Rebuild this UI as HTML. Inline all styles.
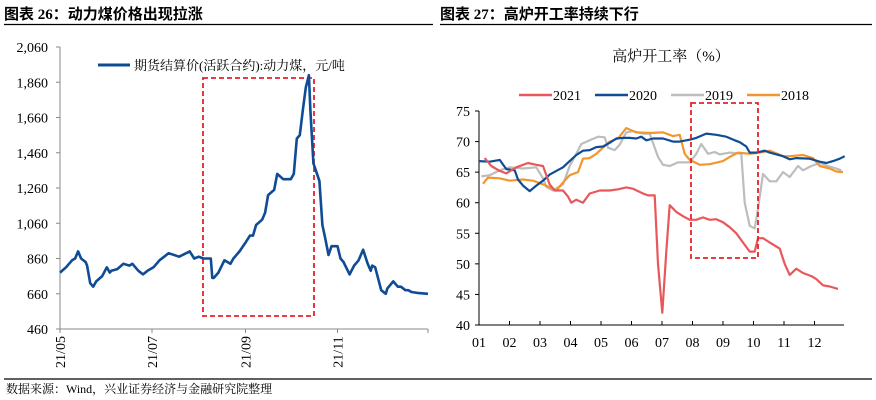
<!DOCTYPE html>
<html><head><meta charset="utf-8">
<style>
body{margin:0;background:#fff;}
svg{display:block;font-family:"Liberation Serif","Noto Serif CJK SC",serif;}
</style></head>
<body>
<svg id="s" width="876" height="400" viewBox="0 0 876 400">
<text x="4" y="19" font-size="15" font-weight="bold" font-family="Liberation Serif,'Noto Sans CJK SC',sans-serif">图表 26：动力煤价格出现拉涨</text>
<line x1="4" y1="24.5" x2="433" y2="24.5" stroke="#000" stroke-width="1.2"/>
<text x="440" y="19" font-size="15" font-weight="bold" font-family="Liberation Serif,'Noto Sans CJK SC',sans-serif">图表 27：高炉开工率持续下行</text>
<line x1="440" y1="24.5" x2="872" y2="24.5" stroke="#000" stroke-width="1.2"/>
<line x1="4" y1="379" x2="872" y2="379" stroke="#000" stroke-width="1.2"/>
<text x="6" y="393" font-size="12">数据来源：Wind，兴业证券经济与金融研究院整理</text>
<g id="L"></g>
<g id="R"></g>
</svg>
<script>
// ---- left chart data ----
const coalDays=[0,4,8,10,12,14,17,18,20,22,24,28,31,33,34,38,42,46,48,52,55,58,62,66,72,79,86,89,92,95,100,101,102,105,109,113,115,119,123,126,128,130,134,136,138,142,144,148,153,155,157,159,161,163,165,166,168,170,172,174,176,178,180,184,186,188,192,195,198,201,204,206,207,209,213,216,217,218,221,224,226,229,231,233,237,244];
const coalPrice=[780,810,850,860,900,860,840,820,720,700,730,760,810,780,790,800,830,820,830,790,770,790,810,850,890,870,900,860,870,860,860,750,750,780,850,830,860,900,950,990,990,1050,1080,1120,1220,1250,1340,1310,1310,1340,1540,1560,1700,1830,1900,1700,1400,1350,1300,1050,970,880,930,930,860,840,770,820,850,910,830,790,820,810,680,660,690,700,730,700,700,680,680,670,665,660];
const coalYTicks=[460,660,860,1060,1260,1460,1660,1860,2060];
const coalXLabels=["21/05","21/07","21/09","21/11"];
const coalXLabelDays=[0,61,123,184];
// ---- right chart data ----
const bfMonths=["01","02","03","04","05","06","07","08","09","10","11","12"];
const bfYTicks=[40,45,50,55,60,65,70,75];
const bfSeriesNames=["2021","2020","2019","2018"];
const bfColors=["#e8585a","#0f4c95","#bdbdbd","#f2972e"];
const bfX2021=[145,165,190,210,240,275,300,320,340,355,380,395,405,420,440,460,490,520,545,570,590,620,635,655,665,678,690,700,720,740,760,780,800,820,840,860,880,900,920,940,955,965,980,1000,1030,1045,1060,1080,1100,1125,1140,1160,1180,1205];
const bfV2021=[67.3,66,65.2,64.8,65.8,66.5,66.2,66,63,62,62,61,60,60.5,60,61.5,62,62,62.2,62.5,62.3,61.5,61.2,61.2,50,42,52,59.6,58.5,57.8,57.2,57.2,57.6,57.2,57.3,56.8,56,55,53.5,52,52,54.2,54.2,53.5,52.5,50,48.2,49.2,48.5,48,47.5,46.5,46.3,45.9];
const bfX2020=[128,160,190,210,235,245,260,280,300,320,340,360,380,400,420,440,460,480,500,520,540,560,580,600,615,630,650,680,710,730,760,780,810,840,870,895,910,930,940,960,985,1000,1040,1060,1080,1120,1150,1170,1190,1210,1225];
const bfV2020=[66.8,66.7,67,65.5,65.3,63.8,62.8,61.9,62.8,63.6,64.6,65.2,65.8,66.8,67.8,68.5,68.6,69.1,69.2,69.8,70.5,70.6,70.6,70.5,70.8,70.2,70.5,70.5,70,70,70.3,70.6,71.3,71.1,70.8,70.2,69.9,69.2,68.2,68.2,68.5,68.2,67.6,67.1,67.3,67.2,66.7,66.5,66.8,67.2,67.6];
const bfX2019=[135,160,190,220,260,300,320,330,350,380,400,420,435,460,485,505,515,535,550,570,590,620,640,655,665,680,700,725,760,780,795,815,835,850,880,915,925,940,955,965,980,1000,1020,1040,1060,1085,1100,1125,1150,1175,1200,1215];
const bfV2019=[64.3,64.5,65.3,65.8,65.6,65.8,64,62.6,62,63,66,68,69.6,70.2,70.8,70.7,69,68.6,69.5,71.5,71.7,71.3,71.3,69,67.5,66.2,66,66.6,66.6,68,69.6,68,68.3,67.9,68.2,68,60,56.2,55.8,59,64.7,63.5,63.5,65,64.2,66,65.3,66,66.5,66,65.6,65.3];
const bfX2018=[140,155,190,220,260,290,320,340,360,380,400,425,440,460,480,500,520,545,570,600,640,680,700,710,730,745,760,790,820,860,880,905,940,970,1000,1040,1060,1100,1130,1150,1180,1200,1220];
const bfV2018=[63.1,64.1,64,63.6,63.8,63.6,63,62.5,62,63.3,64.5,65,67.2,67.3,68,69,70,70.5,72.2,71.5,71.4,71.5,71.1,70.9,71.1,68,67,66.2,66.3,66.8,67.5,68.2,68,68.2,68.5,67.6,67.6,67.8,67.3,66,65.6,65.1,65];

const NS="http://www.w3.org/2000/svg";
function mk(parent,tag,attrs){const e=document.createElementNS(NS,tag);for(const k in attrs)e.setAttribute(k,attrs[k]);parent.appendChild(e);return e;}

// ---- left chart ----
const L=document.getElementById('L');
const lx=d=>60+d*(368/244);
const ly=v=>329-(v-460)/1600*282;
let e=mk(L,'line',{x1:60,y1:ly(2060),x2:60,y2:329,stroke:'#888','stroke-width':1});

e=mk(L,'line',{x1:60,y1:329,x2:428,y2:329,stroke:'#888','stroke-width':1});

coalYTicks.forEach(v=>{
  const t=mk(L,'text',{x:48,y:ly(v)+5,'font-size':14,'text-anchor':'end'});t.textContent=v.toLocaleString('en-US');
  
  const k=mk(L,'line',{x1:56,y1:ly(v),x2:60,y2:ly(v),stroke:'#888'});
  
});
coalXLabels.forEach((s,i)=>{
  const x=lx(coalXLabelDays[i]);
  const k=mk(L,'line',{x1:x,y1:329,x2:x,y2:333,stroke:'#888'});
  
  const t=mk(L,'text',{x:0,y:0,'font-size':14,'text-anchor':'middle',transform:`translate(${x+5},352) rotate(-90)`});t.textContent=s;
  
});
e=mk(L,'line',{x1:428,y1:329,x2:428,y2:333,stroke:'#888'});

e=mk(L,'rect',{x:203,y:78,width:111,height:238,fill:'none',stroke:'#e8202a','stroke-width':1.8,'stroke-dasharray':'5,3'});

e=mk(L,'polyline',{points:coalDays.map((d,i)=>lx(d).toFixed(1)+','+ly(coalPrice[i]).toFixed(1)).join(' '),fill:'none',stroke:'#0f4c95','stroke-width':2.6,'stroke-linejoin':'round'});

e=mk(L,'line',{x1:98,y1:65,x2:130,y2:65,stroke:'#0f4c95','stroke-width':3});

e=mk(L,'text',{x:134,y:70,'font-size':13});e.textContent='期货结算价(活跃合约):动力煤，元/吨';


// ---- right chart ----
const R=document.getElementById('R');
const rx=zx=>479+(zx-128)/3;
const ry=v=>325-(v-40)/35*214;
e=mk(R,'text',{x:671,y:61,'font-size':15,'text-anchor':'middle'});e.textContent='高炉开工率（%）';

e=mk(R,'line',{x1:479,y1:ry(75),x2:479,y2:325,stroke:'#000'});

e=mk(R,'line',{x1:479,y1:325,x2:844,y2:325,stroke:'#000'});

bfYTicks.forEach(v=>{
  const t=mk(R,'text',{x:470,y:ry(v)+5,'font-size':14,'text-anchor':'end'});t.textContent=v;
  
  const k=mk(R,'line',{x1:475,y1:ry(v),x2:479,y2:ry(v),stroke:'#000'});
  
});
bfMonths.forEach((m,i)=>{
  const x=479+i*30.5;
  const k=mk(R,'line',{x1:x,y1:321,x2:x,y2:325,stroke:'#000'});
  
  const t=mk(R,'text',{x:x,y:347,'font-size':14,'text-anchor':'middle'});t.textContent=m;
  
});
const xs=[bfX2021,bfX2020,bfX2019,bfX2018],vs=[bfV2021,bfV2020,bfV2019,bfV2018];
[2,3,1,0].forEach(i=>{
  const p=mk(R,'polyline',{points:xs[i].map((x,j)=>rx(x).toFixed(1)+','+ry(vs[i][j]).toFixed(1)).join(' '),fill:'none',stroke:bfColors[i],'stroke-width':2.2,'stroke-linejoin':'round'});
  
});
e=mk(R,'rect',{x:691,y:103,width:67,height:155,fill:'none',stroke:'#e8202a','stroke-width':1.8,'stroke-dasharray':'5,3'});

const legX=[519,595,671,747];
bfSeriesNames.forEach((n,i)=>{
  const l=mk(R,'line',{x1:legX[i],y1:95,x2:legX[i]+33,y2:95,stroke:bfColors[i],'stroke-width':2.5});
  
  const t=mk(R,'text',{x:legX[i]+34,y:100,'font-size':14});t.textContent=n;
  
});
</script>
</body></html>
